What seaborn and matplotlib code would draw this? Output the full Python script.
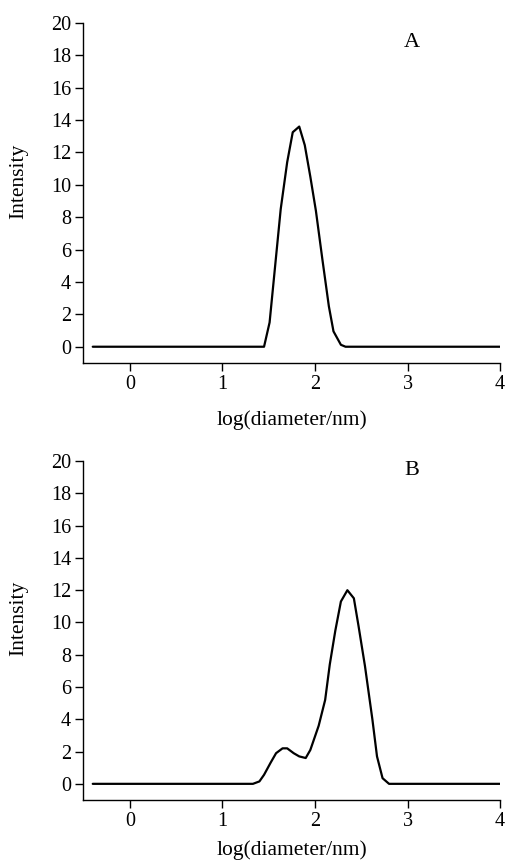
import numpy as np
import pandas as pd
import matplotlib
matplotlib.use('Agg')
import matplotlib.pyplot as plt
import seaborn as sns

# sample A: log(diameter/nm) vs intensity
logd_a = [-0.4, 1.45, 1.51, 1.57, 1.63, 1.70, 1.76, 1.83, 1.89, 1.95, 2.01, 2.08, 2.15, 2.20, 2.28, 2.33, 4.0]
int_a = [0, 0, 1.5, 5.0, 8.5, 11.4, 13.25, 13.6, 12.45, 10.5, 8.4, 5.4, 2.5, 0.95, 0.12, 0, 0]

# sample B
logd_b = [-0.4, 1.33, 1.40, 1.45, 1.52, 1.58, 1.65, 1.70, 1.77, 1.83, 1.90, 1.95, 2.04, 2.11, 2.16, 2.22, 2.28, 2.35,
          2.42, 2.47, 2.54, 2.62, 2.67, 2.73, 2.80, 4.0]
int_b = [0, 0, 0.15, 0.56, 1.3, 1.9, 2.2, 2.2, 1.9, 1.7, 1.6, 2.1, 3.6, 5.2, 7.4, 9.5, 11.3, 12.0,
         11.5, 9.8, 7.3, 4.0, 1.7, 0.35, 0, 0]

panel_labels = ['A', 'B']
yticks = list(range(0, 21, 2))
xticks = [0, 1, 2, 3, 4]

sns.set_style('ticks')
plt.rcParams['font.family'] = ['Liberation Serif', 'DejaVu Serif']
plt.rcParams['text.color'] = 'black'
plt.rcParams['axes.labelcolor'] = 'black'

fig = plt.figure(figsize=(5.05, 8.6), dpi=100)
ax_a = fig.add_axes([0.1644, 0.578, 0.826, 0.3953])
ax_b = fig.add_axes([0.1644, 0.0698, 0.826, 0.394])

panels = [(ax_a, logd_a, int_a, panel_labels[0], 18.8, -0.168),
          (ax_b, logd_b, int_b, panel_labels[1], 19.4, -0.147)]

for ax, x, y, lab, ly, xl_y in panels:
    df = pd.DataFrame({'logd': x, 'intensity': y})
    sns.lineplot(data=df, x='logd', y='intensity', ax=ax, color='black', linewidth=1.6)
    ax.set_xlim(-0.505, 4.0)
    ax.set_ylim(-1.0, 20)
    ax.set_xticks(xticks)
    ax.set_yticks(yticks)
    ax.set_xlabel('log(diameter/nm)', fontsize=15.5, va='center', color='black')
    ax.xaxis.set_label_coords(0.5, xl_y)
    ax.set_ylabel('Intensity', fontsize=15.5, va='center', color='black')
    ax.yaxis.set_label_coords(-0.155, 0.535)
    ax.tick_params(direction='out', length=5.5, width=1, labelsize=14.5, colors='black', pad=3)
    for s in ['left', 'bottom']:
        ax.spines[s].set_linewidth(1)
        ax.spines[s].set_color('black')
    sns.despine(ax=ax)
    ax.text(3.05, ly, lab, fontsize=16, ha='center', va='center', color='black')

fig.savefig('out.png', dpi=100)
